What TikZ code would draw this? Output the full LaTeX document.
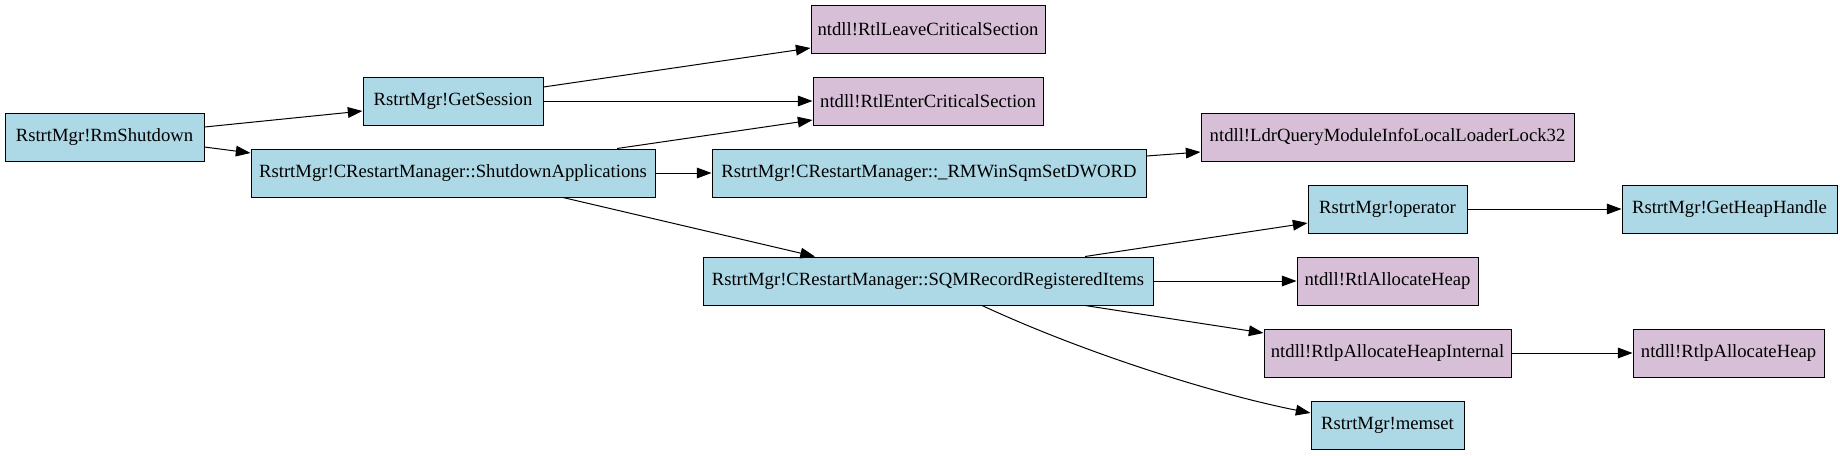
\documentclass[tikz,border=0pt]{standalone}
\usepackage{fontspec}
\setmainfont{Liberation Serif}
\usetikzlibrary{arrows.meta,calc}
\definecolor{nblue}{HTML}{ADD8E6}
\definecolor{npink}{HTML}{D8BFD8}
\tikzset{
  fn/.style={draw=black, line width=0.75pt, minimum height=36pt, inner sep=0pt,
             font=\fontsize{14}{16}\selectfont, anchor=center},
  bluebox/.style={fn, fill=nblue},
  pinkbox/.style={fn, fill=npink},
  edge/.style={draw=black, line width=0.75pt, -{Triangle[length=11pt,width=8pt]}}
}
\begin{document}
\begin{tikzpicture}[x=0.75pt,y=-0.75pt]
\useasboundingbox (0,0) rectangle (1840,455);
\node[bluebox, minimum width=149.25pt] (rm)    at (104.5,137) {RstrtMgr!RmShutdown};
\node[bluebox, minimum width=135pt]    (gs)    at (453,101)   {RstrtMgr!GetSession};
\node[bluebox, minimum width=303pt]    (sa)    at (453,173)   {RstrtMgr!CRestartManager::ShutdownApplications};
\node[pinkbox, minimum width=175.5pt]  (leave) at (928,29)    {ntdll!RtlLeaveCriticalSection};
\node[pinkbox, minimum width=172.5pt]  (enter) at (928,101)   {ntdll!RtlEnterCriticalSection};
\node[bluebox, minimum width=325.5pt]  (dword) at (929,173)   {RstrtMgr!CRestartManager::\_RMWinSqmSetDWORD};
\node[pinkbox, minimum width=279.75pt] (ldr)   at (1387.5,137) {ntdll!LdrQueryModuleInfoLocalLoaderLock32};
\node[bluebox, minimum width=119.25pt] (op)    at (1387.5,209) {RstrtMgr!operator};
\node[bluebox, minimum width=161.25pt] (ghh)   at (1729.5,209) {RstrtMgr!GetHeapHandle};
\node[bluebox, minimum width=337.5pt]  (sqm)   at (928,281)   {RstrtMgr!CRestartManager::SQMRecordRegisteredItems};
\node[pinkbox, minimum width=135.75pt] (rah)   at (1387.5,281) {ntdll!RtlAllocateHeap};
\node[pinkbox, minimum width=185.25pt] (rahi)  at (1387.5,353) {ntdll!RtlpAllocateHeapInternal};
\node[pinkbox, minimum width=143.25pt] (rah2)  at (1728.5,353) {ntdll!RtlpAllocateHeap};
\node[bluebox, minimum width=114.75pt] (mem)   at (1387.5,425) {RstrtMgr!memset};

\draw[edge] ([yshift=7.5pt]rm.east) -- ([yshift=-7.5pt]gs.west);
\draw[edge] ([yshift=-7.5pt]rm.east) -- ([yshift=15pt]sa.west);
\draw[edge] ([yshift=10.5pt]gs.east) -- ([yshift=-14.25pt]leave.west);
\draw[edge] (gs.east) -- (enter.west);
\draw[edge] ([xshift=123pt]sa.north) -- ([yshift=-14.25pt]enter.west);
\draw[edge] (sa.east) -- (dword.west);
\draw[edge] ([xshift=82.5pt]sa.south) -- ([xshift=-84.75pt]sqm.north);
\draw[edge] ([yshift=12.75pt]dword.east) -- ([yshift=-11.25pt]ldr.west);
\draw[edge] ([xshift=117.75pt]sqm.north) -- ([yshift=-10.5pt]op.west);
\draw[edge] (op.east) -- (ghh.west);
\draw[edge] (sqm.east) -- (rah.west);
\draw[edge] ([xshift=117.75pt]sqm.south) -- ([yshift=15pt]rahi.west);
\draw[edge] ([xshift=40.5pt]sqm.south) .. controls +(108,50) and +(-91,-18) .. ([yshift=9pt]mem.west);
\draw[edge] (rahi.east) -- (rah2.west);
\end{tikzpicture}
\end{document}
